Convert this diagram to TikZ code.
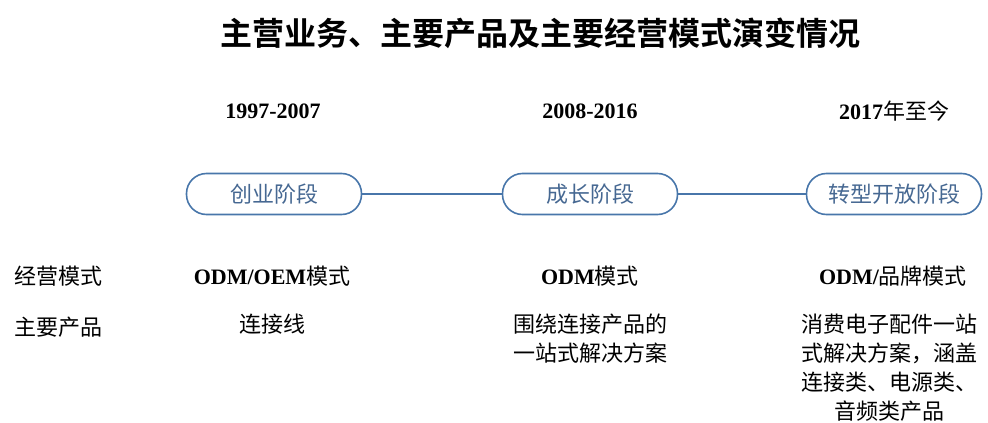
\documentclass[tikz,border=0pt]{standalone}
\usepackage{fontspec}
\setmainfont{Liberation Serif}
\newfontfamily\cjk{Noto Sans CJK SC}
\newfontfamily\cjkb{Noto Sans CJK SC}[BoldFont={Noto Sans CJK SC Bold}]
\definecolor{stageline}{RGB}{72,118,170}
\definecolor{stagetext}{RGB}{70,104,146}
\tikzset{
  stagebox/.style={draw=stageline, line width=1.6pt, rounded corners=20pt, minimum width=175pt, minimum height=41pt, text=stagetext, font=\fontsize{22}{26}\selectfont\cjk, inner sep=0pt},
  link/.style={draw=stageline, line width=1.6pt},
  yearlbl/.style={font=\fontsize{22}{26}\selectfont\bfseries, inner sep=0pt},
  rowlbl/.style={font=\fontsize{22}{26}\selectfont\cjk, inner sep=0pt, anchor=west},
  celltxt/.style={font=\fontsize{22}{29}\selectfont\cjk, inner sep=0pt, align=center},
  modetxt/.style={font=\fontsize{22}{26}\selectfont\bfseries, inner sep=0pt},
}
\newcommand{\cjkm}{\cjk\mdseries}
\begin{document}
\begin{tikzpicture}[x=1pt,y=-1pt]
\useasboundingbox (0,0) rectangle (988,423);
\node[font=\fontsize{32}{36}\selectfont\cjkb\bfseries, inner sep=0pt] (title) at (540,33) {主营业务、主要产品及主要经营模式演变情况};

\node[yearlbl] (y1) at (273,111) {1997-2007};
\node[yearlbl] (y2) at (590,111) {2008-2016};
\node[yearlbl] (y3) at (894,111) {2017{\cjkm 年至今}};

\node[stagebox] (s1) at (274,194) {创业阶段};
\node[stagebox] (s2) at (590,194) {成长阶段};
\node[stagebox] (s3) at (894,194) {转型开放阶段};
\draw[link] (s1) -- (s2);
\draw[link] (s2) -- (s3);

\node[rowlbl] (r1) at (14,276) {经营模式};
\node[rowlbl] (r2) at (14,327) {主要产品};

\node[modetxt] (m1) at (272,276) {ODM/OEM{\cjkm 模式}};
\node[modetxt] (m2) at (590,276) {ODM{\cjkm 模式}};
\node[modetxt] (m3) at (893,276) {ODM/{\cjkm 品牌模式}};

\node[celltxt, anchor=north] (p1) at (272,314) {连接线};
\node[celltxt, anchor=north] (p2) at (590,314) {围绕连接产品的\\一站式解决方案};
\node[celltxt, anchor=north] (p3) at (889,314) {消费电子配件一站\\式解决方案，涵盖\\连接类、电源类、\\音频类产品};
\end{tikzpicture}
\end{document}
